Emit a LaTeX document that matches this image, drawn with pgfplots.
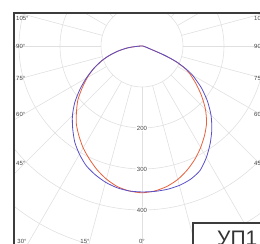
\documentclass[border=0pt]{standalone}
\usepackage{fontspec}
\setmainfont{Liberation Sans}
\usepackage{pgfplots}
\pgfplotsset{compat=1.18}
\definecolor{gridc}{HTML}{E0E0E0}
\definecolor{cblue}{HTML}{5A50C8}
\definecolor{cred}{HTML}{E8603C}
\definecolor{framec}{HTML}{3C3C3C}
\definecolor{labc}{HTML}{444444}
\begin{document}
\begin{tikzpicture}
\begin{axis}[scale only axis, width=260pt, height=244pt,
  xmin=-346.34, xmax=287.80, ymin=-482.93, ymax=112.20,
  hide axis, clip=true]
% grid circles
\pgfplotsinvokeforeach{100,200,300,400,500,600,700,800}{
  \draw[gridc, line width=0.6pt] (axis cs:0,0) circle[radius=#1];
}
% grid rays
\pgfplotsinvokeforeach{0,15,...,345}{
  \draw[gridc, line width=0.6pt] (axis cs:{100*cos(#1)},{100*sin(#1)}) -- (axis cs:{900*cos(#1)},{900*sin(#1)});
}
% C90 plane (red)
\addplot[cred, line width=0.8pt, smooth, tension=0.4, data cs=polar] coordinates {
(180,0) (183,8) (186,25) (188,38) (192,60) (196,82) (200,104) (205,130) (210,154)
(215,178) (220,204) (225,226) (230,249) (235,268) (240,287) (245,304) (250,321)
(255,336) (260,348) (265,355) (270,358) (275,355) (280,348) (285,337) (290,322)
(295,305) (300,286) (305,266) (310,245) (315,219) (320,190) (325,161) (330,134)
(332.5,118) (335,94) (336.5,75) (338,52) (340,22) (345,9) (350,4) (355,2) (360,0)
};
% C0 plane (blue)
\addplot[cblue, line width=0.8pt, smooth, tension=0.4, data cs=polar] coordinates {
(180,0) (183,8) (186,25) (188,38) (192,60) (196,82) (200,104) (205,130) (210,157)
(215,185) (220,214) (225,240) (230,263) (235,286) (240,305) (245,322) (250,334)
(255,344) (260,351) (265,355) (270,356) (275,356) (280,355) (285,352) (290,346)
(295,335) (300,314) (305,290) (310,265) (315,238) (320,208) (325,176) (330,142)
(332.5,120) (335,96) (336.5,76) (338,52) (340,22) (345,9) (350,4) (355,2) (360,0)
};
% white outside the frame
\fill[white] (axis cs:-400,-600) rectangle (axis cs:-313.4,200);
\fill[white] (axis cs:-400,80.5) rectangle (axis cs:400,200);
% frame
\draw[framec, line width=2pt] (axis cs:-313.4,-600) -- (axis cs:-313.4,80.5) -- (axis cs:400,80.5);
% angle labels
\tikzset{alab/.style={text=labc, font=\fontsize{6}{7}\selectfont, inner sep=0pt}}
\node[alab, anchor=west] at (axis cs:-307.3,68.3) {105°};
\node[alab, anchor=west] at (axis cs:-307.3,0) {90°};
\node[alab, anchor=west] at (axis cs:-307.3,-78) {75°};
\node[alab, anchor=west] at (axis cs:-307.3,-165.9) {60°};
\node[alab, anchor=west] at (axis cs:-307.3,-285.4) {45°};
\node[alab, anchor=west] at (axis cs:273.2,68.3) {105°};
\node[alab, anchor=west] at (axis cs:273.2,0) {90°};
\node[alab, anchor=west] at (axis cs:273.2,-78) {75°};
\node[alab, anchor=west] at (axis cs:273.2,-165.9) {60°};
\node[alab, anchor=west] at (axis cs:273.2,-285.4) {45°};
\node[alab] at (axis cs:-292.7,-476) {30°};
\node[alab] at (axis cs:-139,-476) {15°};
\node[alab] at (axis cs:0,-476) {0°};
% radial labels
\node[alab, fill=white, inner sep=0.6pt] at (axis cs:0,-200) {200};
\node[alab, fill=white, inner sep=0.6pt] at (axis cs:0,-300) {300};
\node[alab, fill=white, inner sep=0.6pt] at (axis cs:0,-400) {400};
% name box
\draw[framec, line width=1.4pt, fill=white] (axis cs:124.4,-431.7) rectangle (axis cs:400,-600);
\node[anchor=base west, font=\fontsize{21}{24}\selectfont, text=black!80, inner sep=0pt] at (axis cs:182.9,-485.4) {УП1};
\end{axis}
\pgfresetboundingbox
\useasboundingbox (current axis.south west) rectangle (current axis.north east);
\end{tikzpicture}
\end{document}
